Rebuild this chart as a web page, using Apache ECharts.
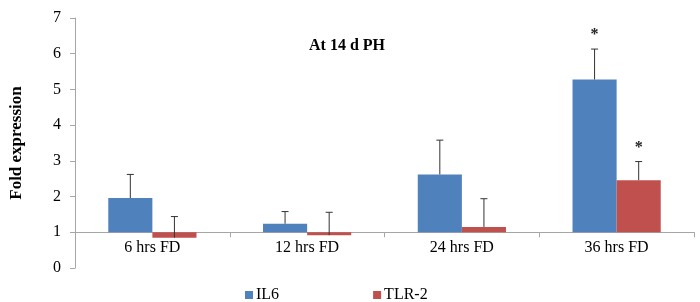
<!DOCTYPE html>
<html>
<head>
<meta charset="utf-8">
<script src="https://cdn.jsdelivr.net/npm/echarts@6/dist/echarts.min.js"></script>
<style>
html, body { margin: 0; padding: 0; background: #fff; }
#chart { width: 700px; height: 302px; }
</style>
</head>
<body>
<div id="chart"></div>
<script>
// data
var categories = ['6 hrs FD', '12 hrs FD', '24 hrs FD', '36 hrs FD'];
var il6 = [1.96, 1.24, 2.62, 5.28];
var il6Err = [0.66, 0.34, 0.96, 0.85];
var tlr2 = [0.85, 0.92, 1.15, 2.46];
var tlr2Err = [0.59, 0.64, 0.79, 0.52];
// significance marks (category index, series)
var il6Sig = ['', '', '', '*'];
var tlr2Sig = ['', '', '', '*'];
var baseline = 1;

var chart = echarts.init(document.getElementById('chart'));

var font = '"Liberation Serif", "Times New Roman", serif';
var plotTop = 18, plotBottom = 34;
var plotH = 302 - plotTop - plotBottom;

// bar drawn from baseline (1) to value, side -1 = left half, +1 = right half
function barRenderer(side) {
	return function (params, api) {
		var c = api.value(0);
		var p0 = api.coord([c, baseline]);
		var p1 = api.coord([c, api.value(1)]);
		var w = api.size([1, 0])[0] * 0.285;
		var x = side < 0 ? p0[0] - w : p0[0];
		return {
			type: 'rect',
			shape: { x: x, y: Math.min(p0[1], p1[1]), width: w, height: Math.abs(p0[1] - p1[1]) },
			style: { fill: api.visual('color') }
		};
	};
}

function errRenderer(side) {
	return function (params, api) {
		var c = api.value(0);
		var v = api.value(1);
		var e = api.value(2);
		var w = api.size([1, 0])[0] * 0.285;
		var pv = api.coord([c, v]);
		var pt = api.coord([c, v + e]);
		var x = pv[0] + side * w / 2;
		return {
			type: 'group',
			children: [
				{ type: 'line', shape: { x1: x, y1: pv[1], x2: x, y2: pt[1] }, style: { stroke: '#333', lineWidth: 1 } },
				{ type: 'line', shape: { x1: x - 3.5, y1: pt[1], x2: x + 3.5, y2: pt[1] }, style: { stroke: '#333', lineWidth: 1 } }
			]
		};
	};
}

function sigRenderer(side, sig) {
	return function (params, api) {
		var c = api.value(0);
		var t = sig[c];
		if (!t) return null;
		var w = api.size([1, 0])[0] * 0.285;
		var pt = api.coord([c, api.value(1) + api.value(2)]);
		return {
			type: 'text',
			style: {
				text: t, x: pt[0] + side * w / 2, y: pt[1] - 6,
				align: 'center', verticalAlign: 'bottom',
				font: 'bold 16px ' + font, fill: '#222'
			}
		};
	};
}

function pairs(vals, errs) {
	return vals.map(function (v, i) { return [i, v, errs[i]]; });
}

var option = {
	animation: false,
	backgroundColor: '#fff',
	title: {
		text: 'At 14 d PH',
		left: 342, top: 33, textAlign: 'center',
		textStyle: { fontFamily: font, fontSize: 16, fontWeight: 'bold', color: '#000' }
	},
	legend: {
		data: [
			{ name: 'IL6', icon: 'rect' },
			{ name: 'TLR-2', icon: 'rect' }
		],
		left: 240, top: 282, itemWidth: 8, itemHeight: 8, itemGap: 94,
		textStyle: { fontFamily: font, fontSize: 16, color: '#000', padding: [0, 0, 0, -2] }
	},
	grid: { left: 71, right: 6, top: plotTop, bottom: plotBottom },
	xAxis: {
		type: 'category',
		data: categories,
		offset: -plotH / 7 * baseline,
		axisLine: { lineStyle: { color: '#a6a6a6' } },
		axisTick: { show: true, length: 5, lineStyle: { color: '#a6a6a6' } },
		axisLabel: { fontFamily: font, fontSize: 16, color: '#000', margin: 8 },
		splitLine: { show: false }
	},
	yAxis: {
		type: 'value',
		min: 0, max: 7, interval: 1,
		name: 'Fold expression',
		nameLocation: 'middle',
		nameGap: 50,
		nameTextStyle: { fontFamily: font, fontSize: 17, fontWeight: 'bold', color: '#000' },
		axisLine: { show: true, lineStyle: { color: '#a6a6a6' } },
		axisTick: { show: true, length: 5, lineStyle: { color: '#a6a6a6' } },
		axisLabel: { fontFamily: font, fontSize: 16, color: '#000', margin: 14 },
		splitLine: { show: false }
	},
	series: [
		{
			name: 'IL6', type: 'custom', renderItem: barRenderer(-1),
			itemStyle: { color: '#4F81BD' },
			encode: { x: 0, y: 1 },
			data: pairs(il6, il6Err)
		},
		{
			name: 'TLR-2', type: 'custom', renderItem: barRenderer(1),
			itemStyle: { color: '#C0504D' },
			encode: { x: 0, y: 1 },
			data: pairs(tlr2, tlr2Err)
		},
		{
			type: 'custom', renderItem: errRenderer(-1), z: 5,
			encode: { x: 0, y: 1 },
			data: pairs(il6, il6Err)
		},
		{
			type: 'custom', renderItem: errRenderer(1), z: 5,
			encode: { x: 0, y: 1 },
			data: pairs(tlr2, tlr2Err)
		},
		{
			type: 'custom', renderItem: sigRenderer(-1, il6Sig), z: 6,
			encode: { x: 0, y: 1 },
			data: pairs(il6, il6Err)
		},
		{
			type: 'custom', renderItem: sigRenderer(1, tlr2Sig), z: 6,
			encode: { x: 0, y: 1 },
			data: pairs(tlr2, tlr2Err)
		}
	]
};

chart.setOption(option);
</script>
</body>
</html>
